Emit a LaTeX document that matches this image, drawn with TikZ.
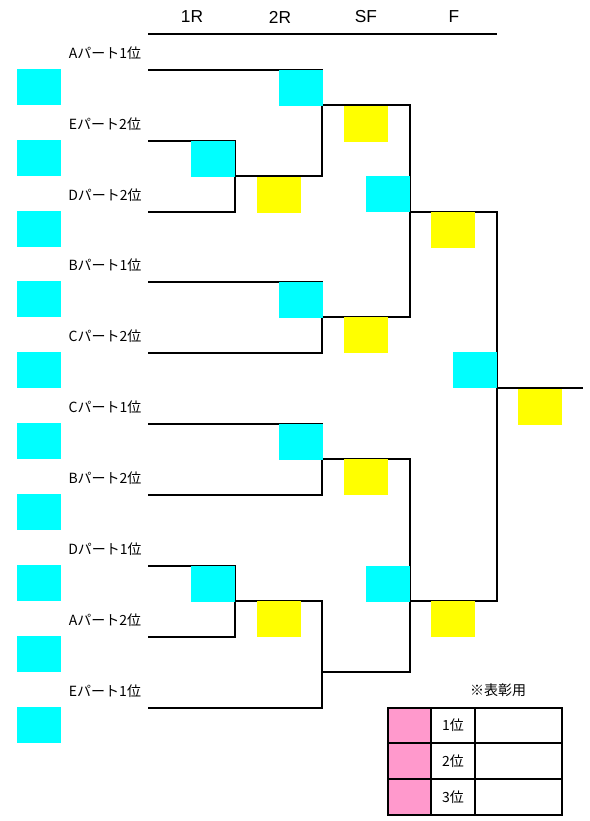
\documentclass[tikz,border=0pt]{standalone}
\usepackage{fontspec}
\setmainfont{Liberation Sans}
\newfontfamily\jp{Noto Sans CJK JP}
\definecolor{aqua}{HTML}{00FFFF}
\definecolor{yel}{HTML}{FFFF00}
\definecolor{pinkc}{HTML}{FF99CC}
\begin{document}
\begin{tikzpicture}[x=0.75pt,y=-0.75pt,
  br/.style={line width=1pt,line join=miter},
  hd/.style={font=\fontsize{13}{15}\selectfont,inner sep=0pt},
  lbl/.style={font=\jp\fontsize{10.5}{12}\selectfont,inner sep=0pt},
  tb/.style={font=\jp\fontsize{10.5}{12}\selectfont,inner sep=0pt},
  sq/.style={inner sep=0pt,minimum width=33pt,minimum height=27pt,draw=none},
  cbox/.style={sq,fill=aqua},
  ybox/.style={sq,fill=yel}]
\useasboundingbox (0,0) rectangle (589,821);
% header
\node[hd] (h1) at (192,17) {1R};
\node[hd] (h2) at (280,17) {2R};
\node[hd] (h3) at (366,17) {SF};
\node[hd] (h4) at (454,17) {F};
\draw[line width=1.5pt] (148,34) -- (497,34);
% entries
\foreach \i/\y/\t in {0/70/Aパート1位,1/141/Eパート2位,2/212/Dパート2位,3/282/Bパート1位,4/353/Cパート2位,5/424/Cパート1位,6/495/Bパート2位,7/566/Dパート1位,8/637/Aパート2位,9/708/Eパート1位}{
  \coordinate (e\i) at (148,\y);
  \node[lbl] (t\i) at (105,\y-17) {\t};
  \node[cbox] (l\i) at (39,\y+17) {};
}
% bracket coordinates
\coordinate (a1) at (235,212);
\coordinate (w1) at (235,176);
\coordinate (a2) at (322,176);
\coordinate (w2) at (322,105);
\coordinate (a3) at (410,317);
\coordinate (w3) at (322,317);
\coordinate (a4) at (322,353);
\coordinate (w4) at (410,212);
\coordinate (a5) at (497,601);
\coordinate (w5) at (410,601);
\coordinate (w6) at (497,388);
\coordinate (fin) at (583,388);
\coordinate (a7) at (322,495);
\coordinate (a8) at (235,637);
\coordinate (w8) at (235,601);
\coordinate (a9) at (322,708);
\coordinate (w7) at (322,459);
\coordinate (a10) at (410,672);
\coordinate (w9) at (322,672);
% bracket lines
\draw[br] (e1) -| (a1) -- (e2);
\draw[br] (e0) -| (a2) -- (w1);
\draw[br] (w2) -| (a3) -- (w3);
\draw[br] (e3) -| (a4) -- (e4);
\draw[br] (w4) -| (a5) -- (w5);
\draw[br] (w6) -- (fin);
\draw[br] (e5) -| (a7) -- (e6);
\draw[br] (e7) -| (a8) -- (e8);
\draw[br] (w8) -| (a9) -- (e9);
\draw[br] (w7) -| (a10) -- (w9);
% result boxes
\node[cbox] (c1) at (301,87.5) {};
\node[cbox] (c2) at (212.5,159) {};
\node[ybox] (y1) at (278.5,194.5) {};
\node[ybox] (y2) at (366,123.5) {};
\node[cbox] (c3) at (387.5,194) {};
\node[ybox] (y3) at (453,229.5) {};
\node[cbox] (c4) at (301,299.5) {};
\node[ybox] (y4) at (366,335) {};
\node[cbox] (c5) at (474.5,370) {};
\node[ybox] (y5) at (540,406.5) {};
\node[cbox] (c6) at (301,441.5) {};
\node[ybox] (y6) at (366,477) {};
\node[cbox] (c7) at (212.5,584) {};
\node[ybox] (y7) at (278.5,619) {};
\node[cbox] (c8) at (387.5,584) {};
\node[ybox] (y8) at (453,619) {};
% award table
\node[tb] (note) at (498,690) {※表彰用};
\fill[pinkc] (388,708) rectangle (431,815);
\draw[line width=1pt] (388,708) rectangle (562,815);
\draw[line width=1pt] (431,708) -- (431,815);
\draw[line width=1pt] (475,708) -- (475,815);
\draw[line width=1pt] (388,743) -- (562,743);
\draw[line width=1pt] (388,779) -- (562,779);
\node[tb] (p1) at (453,725.5) {1位};
\node[tb] (p2) at (453,761) {2位};
\node[tb] (p3) at (453,797) {3位};
\end{tikzpicture}
\end{document}
